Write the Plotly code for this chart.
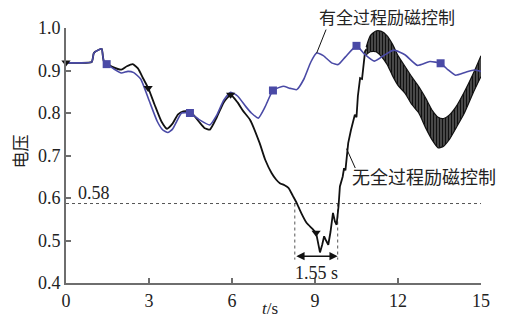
import plotly.graph_objects as go

# ---------------- data ----------------
# with full-process excitation control (blue)
t_with = [0.0, 0.5, 0.93, 1.0, 1.05, 1.29, 1.33, 1.37, 1.47, 1.7, 2.0, 2.24, 2.45, 2.7,
          3.0, 3.3, 3.5, 3.68, 3.85, 4.0, 4.18, 4.48, 4.8, 5.2, 5.45, 5.7, 5.95, 6.2,
          6.5, 6.7, 6.95, 7.2, 7.48, 7.85, 8.1, 8.34, 8.6, 8.85, 9.06, 9.3, 9.6, 9.84,
          10.1, 10.5, 10.8, 11.15, 11.5, 11.85, 12.25, 12.7, 13.15, 13.54, 13.8, 14.08,
          14.45, 14.75, 15.0]
v_with = [0.918, 0.918, 0.920, 0.940, 0.944, 0.951, 0.935, 0.921, 0.915, 0.905, 0.894,
          0.898, 0.895, 0.880, 0.830, 0.780, 0.760, 0.754, 0.762, 0.780, 0.800, 0.800,
          0.785, 0.772, 0.795, 0.830, 0.849, 0.840, 0.815, 0.800, 0.788, 0.815, 0.853,
          0.863, 0.858, 0.855, 0.880, 0.920, 0.941, 0.935, 0.918, 0.914, 0.932, 0.958,
          0.938, 0.922, 0.936, 0.948, 0.937, 0.912, 0.921, 0.917, 0.902, 0.889, 0.896,
          0.901, 0.898]
t_with_mk = [1.47, 4.48, 7.48, 10.5, 13.54]
v_with_mk = [0.915, 0.800, 0.853, 0.958, 0.917]

# without full-process excitation control (black), smooth part then jagged recovery
t_without = [0.0, 0.5, 0.93, 1.0, 1.05, 1.29, 1.33, 1.37, 1.47, 1.7, 2.0, 2.2, 2.41, 2.6,
             2.8, 2.97, 3.2, 3.45, 3.65, 3.85, 4.05, 4.24, 4.5, 4.8, 5.0, 5.2, 5.45, 5.7,
             5.95, 6.2, 6.4, 6.65, 7.0, 7.2, 7.43, 7.6, 7.73, 7.9, 8.04, 8.2, 8.34, 8.5,
             8.7, 8.9, 9.04]
v_without = [0.918, 0.918, 0.920, 0.940, 0.944, 0.951, 0.935, 0.921, 0.917, 0.908, 0.902,
             0.910, 0.915, 0.905, 0.880, 0.859, 0.820, 0.780, 0.763, 0.775, 0.797, 0.804,
             0.803, 0.780, 0.765, 0.761, 0.790, 0.825, 0.843, 0.825, 0.805, 0.784, 0.729,
             0.690, 0.659, 0.643, 0.635, 0.630, 0.624, 0.605, 0.588, 0.565, 0.541, 0.528,
             0.518]
t_without_jag = [9.04, 9.12, 9.18, 9.26, 9.33, 9.4, 9.48, 9.56, 9.65, 9.72, 9.78, 9.85,
                 9.9, 10.0, 10.05, 10.1, 10.15, 10.2, 10.3, 10.44, 10.5, 10.55, 10.63,
                 10.7, 10.81, 10.86]
v_without_jag = [0.518, 0.490, 0.472, 0.490, 0.510, 0.500, 0.490, 0.520, 0.565, 0.545,
                 0.537, 0.580, 0.627, 0.650, 0.670, 0.665, 0.700, 0.729, 0.760, 0.796,
                 0.790, 0.840, 0.882, 0.880, 0.945, 0.950]
t_without_mk = [0.0, 2.97, 5.95, 9.04]
v_without_mk = [0.919, 0.859, 0.843, 0.518]

# envelope of the fast oscillation (black band)
t_band = [10.85, 11.0, 11.2, 11.4, 11.6, 11.8, 12.0, 12.25, 12.5, 12.75, 13.0, 13.25,
          13.45, 13.65, 13.85, 14.1, 14.4, 14.7, 15.0]
v_band_hi = [0.955, 0.982, 0.993, 0.992, 0.982, 0.962, 0.935, 0.910, 0.885, 0.862, 0.835,
             0.805, 0.790, 0.787, 0.795, 0.815, 0.850, 0.890, 0.935]
v_band_lo = [0.937, 0.944, 0.944, 0.933, 0.915, 0.888, 0.865, 0.847, 0.820, 0.800, 0.765,
             0.735, 0.718, 0.722, 0.737, 0.765, 0.800, 0.845, 0.886]

threshold = 0.587
threshold_label = "0.58"
dip_start, dip_end = 8.27, 9.82
dip_label = "1.55 s"

x_ticks = [0, 3, 6, 9, 12, 15]
y_ticks = [0.4, 0.5, 0.6, 0.7, 0.8, 0.9, 1.0]

label_with = "有全过程励磁控制"
label_without = "无全过程励磁控制"
y_title = "电压"
x_title = "<i>t</i>/s"

# ---------------- figure ----------------
BLUE = "#4a4aa6"
BLACK = "#111111"
AXIS = "#6e6e6e"
TXT = "#222222"
SERIF = "Liberation Serif"
CJK = "Noto Sans CJK SC"

fig = go.Figure()

# threshold dotted line and dip window
fig.add_trace(go.Scatter(x=[0, 15], y=[threshold, threshold], mode="lines",
                         line=dict(color="#555555", width=1, dash="dot"),
                         hoverinfo="skip", showlegend=False))
for xv in (dip_start, dip_end):
    fig.add_trace(go.Scatter(x=[xv, xv], y=[threshold, 0.455], mode="lines",
                             line=dict(color="#555555", width=1, dash="dot"),
                             hoverinfo="skip", showlegend=False))

# black curve
fig.add_trace(go.Scatter(x=t_without, y=v_without, mode="lines",
                         line=dict(color=BLACK, width=1.8, shape="spline", smoothing=0.5),
                         showlegend=False))
fig.add_trace(go.Scatter(x=t_without_jag, y=v_without_jag, mode="lines",
                         line=dict(color=BLACK, width=1.8), showlegend=False))
fig.add_trace(go.Scatter(x=t_band, y=v_band_hi, mode="lines",
                         line=dict(color=BLACK, width=1.2, shape="spline", smoothing=0.6),
                         showlegend=False))
fig.add_trace(go.Scatter(x=t_band, y=v_band_lo, mode="lines",
                         line=dict(color=BLACK, width=1.2, shape="spline", smoothing=0.6),
                         fill="tonexty",
                         fillpattern=dict(shape="|", fgcolor=BLACK,
                                          bgcolor="rgba(255,255,255,0)",
                                          size=3, solidity=0.85, fillmode="replace"),
                         showlegend=False))

# blue curve
fig.add_trace(go.Scatter(x=t_with, y=v_with, mode="lines",
                         line=dict(color=BLUE, width=1.6, shape="spline", smoothing=0.5),
                         showlegend=False))
fig.add_trace(go.Scatter(x=t_with_mk, y=v_with_mk, mode="markers",
                         marker=dict(symbol="square", size=8, color=BLUE),
                         showlegend=False))
fig.add_trace(go.Scatter(x=t_without_mk, y=v_without_mk, mode="markers",
                         marker=dict(symbol="triangle-down", size=8, color=BLACK),
                         cliponaxis=False, showlegend=False))

annotations = [
    # 0.58 label
    dict(x=0.36, y=0.612, xref="x", yref="y", text=threshold_label, showarrow=False,
         xanchor="left", yanchor="middle", font=dict(family=SERIF, size=18, color=TXT)),
    # dip width arrow
    dict(x=dip_end, y=0.463, ax=dip_start, ay=0.463, xref="x", yref="y",
         axref="x", ayref="y", text="", showarrow=True, arrowhead=2, arrowside="end+start",
         arrowsize=1.1, arrowwidth=1.5, arrowcolor=BLACK, standoff=0, startstandoff=0),
    dict(x=(dip_start + dip_end) / 2, y=0.424, xref="x", yref="y", text=dip_label,
         showarrow=False, xanchor="center", yanchor="middle",
         font=dict(family=SERIF, size=18, color=TXT)),
    # curve labels with leader lines
    dict(x=9.06, y=0.941, ax=10, ay=-25, xref="x", yref="y",
         text="", showarrow=True, arrowhead=0, arrowwidth=1, arrowcolor=BLACK),
    dict(x=0.7727, y=1.0455, xref="paper", yref="paper", text=label_with, showarrow=False,
         xanchor="center", yanchor="middle", font=dict(family=CJK, size=17, color=TXT)),
    dict(x=10.14, y=0.716, ax=10.48, ay=0.667, xref="x", yref="y", axref="x", ayref="y",
         text="", showarrow=True, arrowhead=0, arrowwidth=1, arrowcolor=BLACK),
    dict(x=12.95, y=0.651, xref="x", yref="y", text=label_without, showarrow=False,
         xanchor="center", yanchor="middle", font=dict(family=CJK, size=18, color=TXT)),
    # axis titles
    dict(x=-0.111, y=0.515, xref="paper", yref="paper", text=y_title, textangle=-90,
         showarrow=False, xanchor="center", yanchor="middle",
         font=dict(family=CJK, size=17, color=TXT)),
    dict(x=0.4916, y=-0.1439, xref="paper", yref="paper", text=x_title, showarrow=False,
         xanchor="center", yanchor="bottom", font=dict(family=SERIF, size=17, color=TXT)),
]

axis_common = dict(showline=True, linecolor=AXIS, linewidth=2, ticks="inside",
                   ticklen=5, tickwidth=1.5, tickcolor=AXIS, showgrid=False,
                   zeroline=False, mirror=False, automargin=False,
                   tickfont=dict(family=SERIF, size=18, color=TXT))

fig.update_layout(
    template="none",
    width=513, height=320,
    margin=dict(l=66, r=32, t=28, b=37),
    paper_bgcolor="white", plot_bgcolor="white",
    font=dict(family=SERIF, color=TXT),
    xaxis=dict(range=[0, 15], tickvals=x_ticks, **axis_common),
    yaxis=dict(range=[0.4, 1.0], tickvals=y_ticks, tickformat=".1f", **axis_common),
    annotations=annotations,
    showlegend=False,
)

# remove the default page margin so the figure fills the window exactly
fig.write_html("out.html", config={"displayModeBar": False},
               post_script="document.body.style.margin='0px';")
